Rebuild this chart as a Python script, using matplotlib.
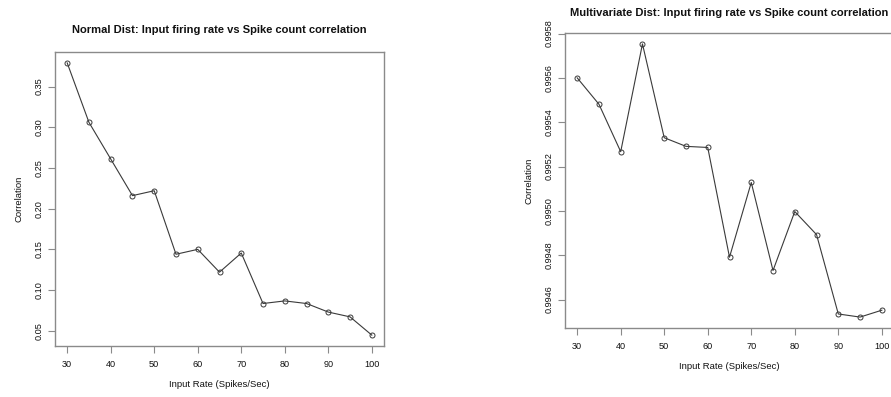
import numpy as np
import matplotlib
matplotlib.use("Agg")
import matplotlib.pyplot as plt

plt.rcParams["font.family"] = ["Liberation Sans", "DejaVu Sans"]

# input rates (spikes/sec)
rates = [30, 35, 40, 45, 50, 55, 60, 65, 70, 75, 80, 85, 90, 95, 100]

# correlation, normal distribution
normal_corr = [0.379, 0.306, 0.261, 0.216, 0.222, 0.144, 0.150, 0.122,
               0.1455, 0.0835, 0.0867, 0.0835, 0.073, 0.0671, 0.0447]

# correlation, multivariate distribution
multi_corr = [0.99560, 0.995481, 0.995267, 0.995753, 0.99533, 0.995291,
              0.995286, 0.994791, 0.995128, 0.994731, 0.994997, 0.994893,
              0.994535, 0.994521, 0.994552]

xticks = [30, 40, 50, 60, 70, 80, 90, 100]
normal_yticks = [0.05, 0.10, 0.15, 0.20, 0.25, 0.30, 0.35]
multi_yticks = [0.9946, 0.9948, 0.9950, 0.9952, 0.9954, 0.9956, 0.9958]

LINE = "#3a3a3a"
BOX = "#8a8a8a"


def r_style_panel(ax, y, yticks, yfmt, title, title_pad):
    ax.plot(rates, y, color=LINE, linewidth=0.8, marker="o", markersize=3.6,
            markerfacecolor="none", markeredgecolor=LINE, markeredgewidth=0.7)
    ax.margins(x=0.04, y=0.04)
    ax.set_xticks(xticks)
    ax.set_yticks(yticks)
    ax.set_yticklabels([yfmt.format(v) for v in yticks], rotation=90, va="center")
    ax.tick_params(axis="both", direction="out", length=5, width=0.8,
                   color=BOX, labelsize=6.6, labelcolor="#111111")
    ax.tick_params(axis="x", pad=5)
    ax.tick_params(axis="y", pad=3)
    for s in ax.spines.values():
        s.set_color(BOX)
        s.set_linewidth(1.0)
    ax.set_xlabel("Input Rate (Spikes/Sec)", fontsize=6.8, labelpad=8, color="#111111")
    ax.set_ylabel("Correlation", fontsize=6.8, labelpad=8, color="#111111")
    ax.set_title(title, fontsize=8.0, fontweight="bold", pad=title_pad, color="#111111")


fig = plt.figure(figsize=(8.91, 3.97), dpi=100)

ax1 = fig.add_axes([55 / 891, 51 / 397, 329 / 891, 294 / 397])
r_style_panel(ax1, normal_corr, normal_yticks, "{:.2f}",
              "Normal Dist: Input firing rate vs Spike count correlation", 13.5)

ax2 = fig.add_axes([565 / 891, 69 / 397, 329 / 891, 295 / 397])
r_style_panel(ax2, multi_corr, multi_yticks, "{:.4f}",
              "Multivariate Dist: Input firing rate vs Spike count correlation", 12)

fig.savefig("out.png", dpi=100)
